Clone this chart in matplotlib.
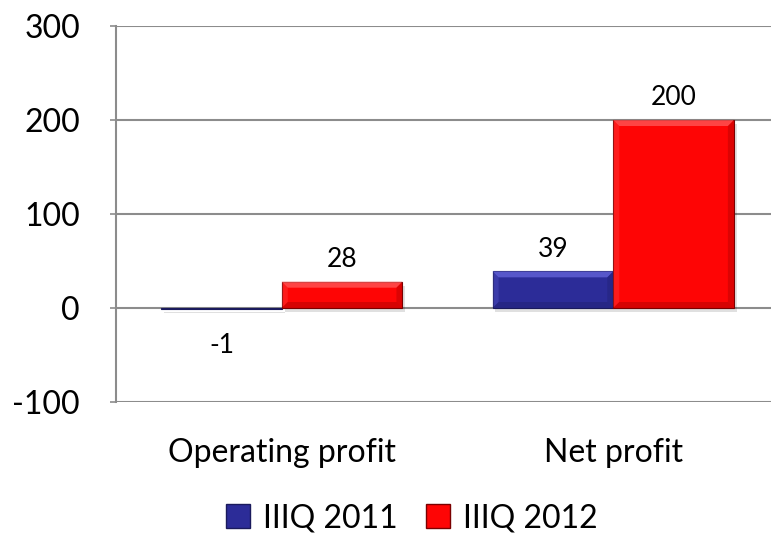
import matplotlib
matplotlib.use("Agg")
from matplotlib import pyplot as plt
from matplotlib.patches import Polygon, Rectangle
import matplotlib.patheffects as pe
import numpy as np

plt.rcParams["font.family"] = ["Lato", "DejaVu Sans"]

categories = ["Operating profit", "Net profit"]
series = ["IIIQ 2011", "IIIQ 2012"]
values_2011 = [-1, 39]
values_2012 = [28, 200]
yticks = [-100, 0, 100, 200, 300]

blue = "#2c2c98"
red = "#fe0505"
blue_light = "#6a6ae0"
red_light = "#ff6060"
blue_dark = "#1a1a5c"
red_dark = "#7a0000"

fig = plt.figure(figsize=(7.71, 5.33), dpi=100)
ax = fig.add_axes([116 / 771, 1 - 402 / 533, 663 / 771, 376 / 533])

x = np.arange(len(categories))
w = 0.364
b1 = ax.bar(x - w / 2, values_2011, w, color=blue, edgecolor=blue_dark, linewidth=0.8, zorder=3)
b2 = ax.bar(x + w / 2, values_2012, w, color=red, edgecolor=red_dark, linewidth=0.8, zorder=3)

ax.set_ylim(-100, 300)
ax.set_xlim(-0.5, 1.5)
ax.set_yticks(yticks)
ax.set_yticklabels([str(v) for v in yticks], fontsize=23)
ax.set_xticks(x)
ax.set_xticklabels(categories, fontsize=23)
ax.tick_params(axis="x", length=0, pad=26)
ax.tick_params(axis="y", length=4, color="#8c8c8c", width=1.2, pad=22)
ax.yaxis.grid(True, color="#8c8c8c", linewidth=1.5, zorder=0)
ax.set_axisbelow(True)
for s in ["top", "right", "bottom"]:
    ax.spines[s].set_visible(False)
ax.spines["left"].set_color("#8c8c8c")
ax.spines["left"].set_linewidth(1.5)

# bevel + shadow on bars
fig.canvas.draw()
inv = ax.transData.inverted()
p0 = inv.transform((0, 0))
p1 = inv.transform((6, 6))
dx, dy = p1[0] - p0[0], p1[1] - p0[1]
for bars, light, dark in [(b1, blue_light, blue_dark), (b2, red_light, red_dark)]:
    for r in bars:
        r.set_path_effects([pe.SimplePatchShadow(offset=(2, -3), alpha=0.12, shadow_rgbFace="#000000"),
                            pe.Normal()])
        bx, by = r.get_x(), r.get_y()
        bw, bh = r.get_width(), r.get_height()
        y0, y1 = min(by, by + bh), max(by, by + bh)
        if y1 - y0 < 3 * dy:
            continue
        x0, x1 = bx, bx + bw
        ax.add_patch(Polygon([(x0, y1), (x1, y1), (x1 - dx, y1 - dy), (x0 + dx, y1 - dy)],
                             closed=True, facecolor=light, edgecolor="none", alpha=0.7, zorder=4))
        ax.add_patch(Polygon([(x0, y0), (x0, y1), (x0 + dx, y1 - dy), (x0 + dx, y0 + dy)],
                             closed=True, facecolor=light, edgecolor="none", alpha=0.25, zorder=4))
        ax.add_patch(Polygon([(x1, y0), (x1, y1), (x1 - dx, y1 - dy), (x1 - dx, y0 + dy)],
                             closed=True, facecolor=dark, edgecolor="none", alpha=0.25, zorder=4))
        ax.add_patch(Polygon([(x0, y0), (x1, y0), (x1 - dx, y0 + dy), (x0 + dx, y0 + dy)],
                             closed=True, facecolor=dark, edgecolor="none", alpha=0.3, zorder=4))

# data labels
for bars, vals in [(b1, values_2011), (b2, values_2012)]:
    for r, v in zip(bars, vals):
        cx = r.get_x() + r.get_width() / 2
        if v >= 0:
            ax.annotate(str(v), (cx, v), xytext=(0, 7), textcoords="offset points",
                        ha="center", va="bottom", fontsize=19, zorder=5)
        else:
            ax.annotate(str(v), (cx, v), xytext=(0, -17), textcoords="offset points",
                        ha="center", va="top", fontsize=19, zorder=5)

handles = [Rectangle((0, 0), 1, 1, facecolor=blue, edgecolor=blue_dark),
           Rectangle((0, 0), 1, 1, facecolor=red, edgecolor=red_dark)]
fig.legend(handles, series, loc="center", bbox_to_anchor=(412 / 771, 1 - 518 / 533),
           ncol=2, frameon=False, fontsize=23, handlelength=0.75, handleheight=0.75,
           handletextpad=0.4, columnspacing=0.9)

fig.savefig("out.png", dpi=100)
